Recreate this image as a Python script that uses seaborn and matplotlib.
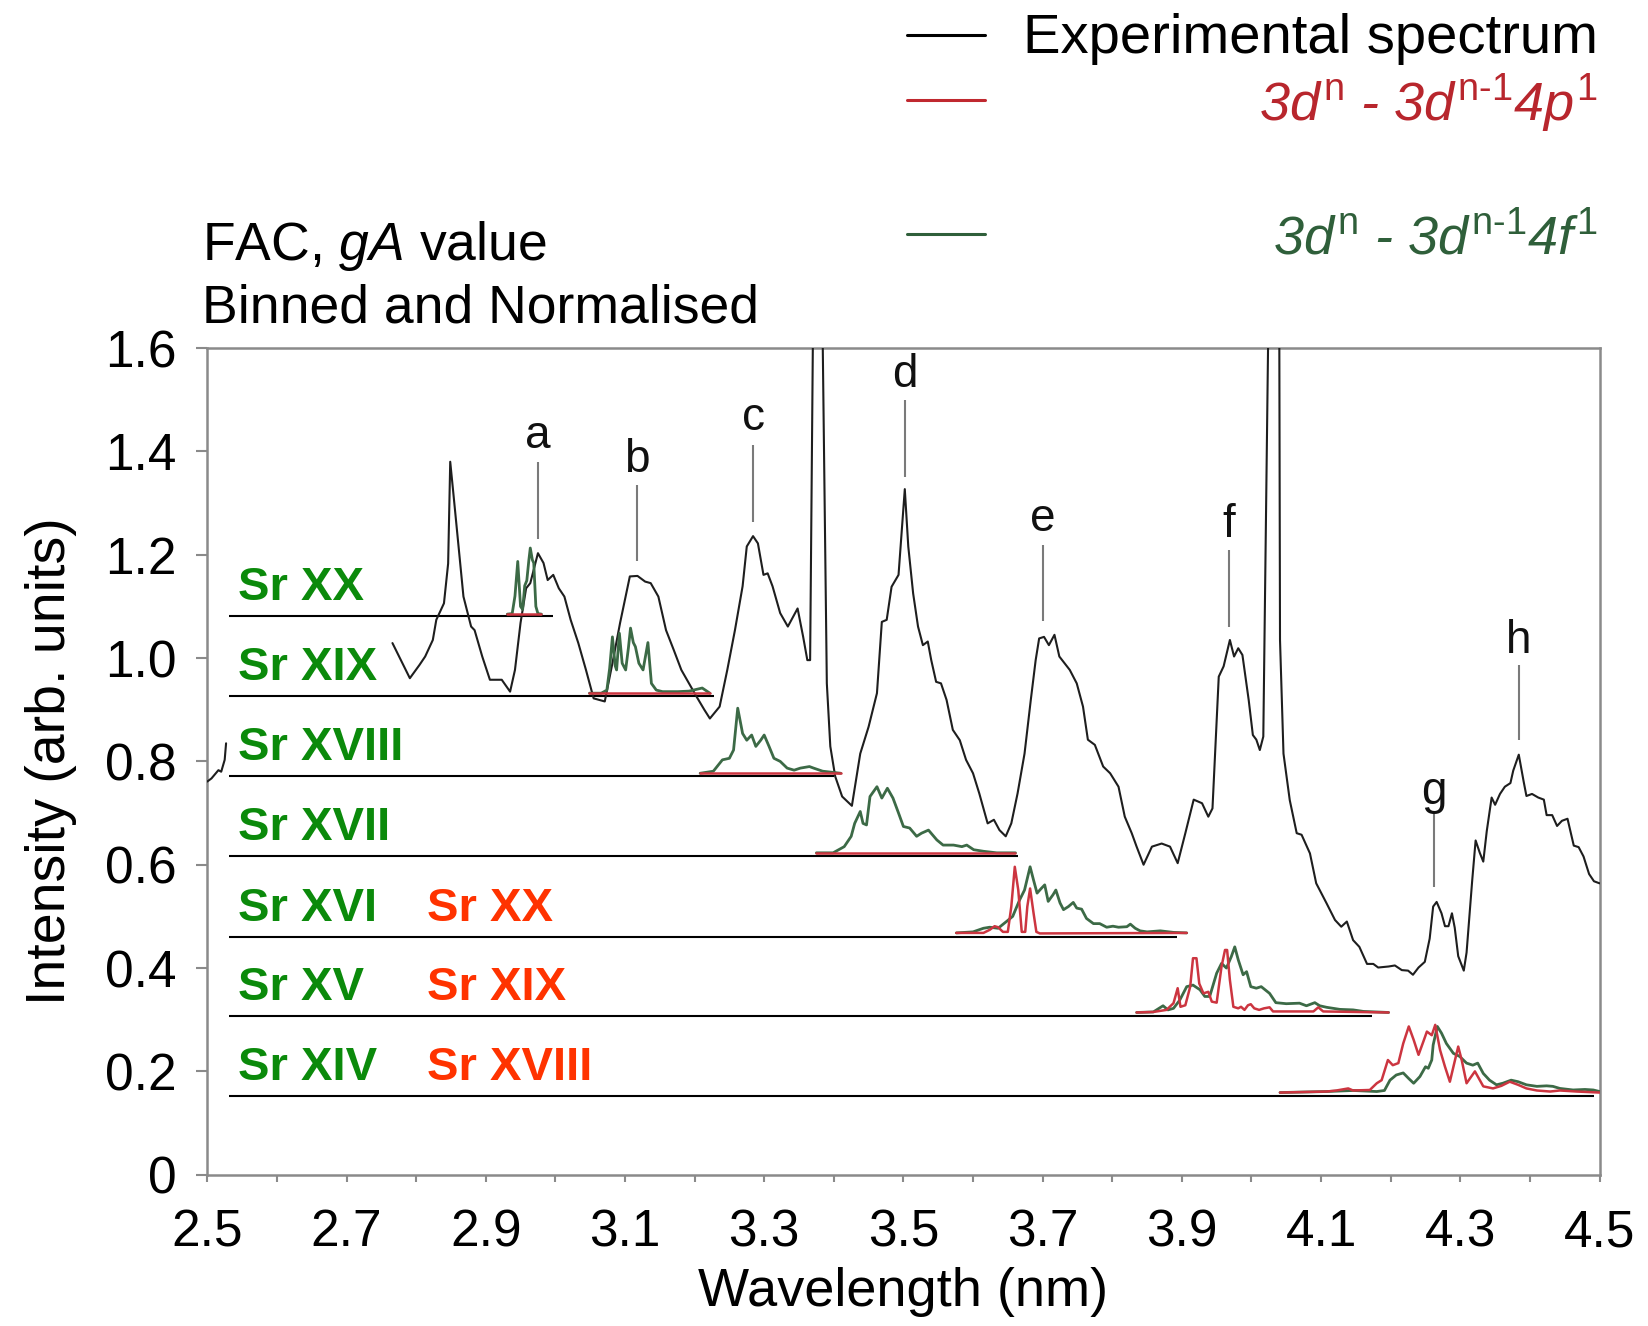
import numpy as np
import pandas as pd
import matplotlib
matplotlib.use("Agg")
import matplotlib.pyplot as plt
from matplotlib.lines import Line2D
import seaborn as sns

# ---------------- data ----------------
# experimental spectrum, short piece at the left edge
spec_left_x = [2.500, 2.506, 2.516, 2.520, 2.525, 2.527]
spec_left_y = [0.761, 0.767, 0.783, 0.780, 0.803, 0.835]

# experimental spectrum, main part
spec_x = [2.766, 2.791, 2.805, 2.813, 2.824, 2.829, 2.840, 2.846, 2.849, 2.854,
          2.868, 2.879, 2.884, 2.895, 2.906, 2.923, 2.935, 2.942, 2.950, 2.958,
          2.964, 2.975, 2.983, 2.989, 2.997, 3.005, 3.013, 3.022, 3.033, 3.044,
          3.055, 3.071, 3.082, 3.093, 3.107, 3.118, 3.129, 3.137, 3.148, 3.159,
          3.170, 3.181, 3.192, 3.203, 3.214, 3.222, 3.236, 3.247, 3.258, 3.269,
          3.275, 3.284, 3.291, 3.299, 3.305, 3.312, 3.323, 3.334, 3.348, 3.356,
          3.362, 3.366, 3.370, 3.377, 3.384, 3.390, 3.395, 3.402, 3.412, 3.426,
          3.438, 3.450, 3.462, 3.469, 3.476, 3.483, 3.493, 3.502, 3.507, 3.514,
          3.521, 3.528, 3.535, 3.540, 3.547, 3.554, 3.562, 3.571, 3.581, 3.590,
          3.600, 3.609, 3.621, 3.630, 3.638, 3.647, 3.655, 3.664, 3.674, 3.683,
          3.690, 3.695, 3.702, 3.709, 3.717, 3.724, 3.739, 3.749, 3.758, 3.765,
          3.775, 3.787, 3.797, 3.809, 3.818, 3.828, 3.835, 3.845, 3.857, 3.871,
          3.883, 3.894, 3.905, 3.917, 3.929, 3.938, 3.944, 3.953, 3.960, 3.969,
          3.975, 3.981, 3.987, 3.996, 4.002, 4.007, 4.012, 4.017, 4.024, 4.032,
          4.040, 4.041, 4.046, 4.055, 4.065, 4.072, 4.084, 4.093, 4.108, 4.120,
          4.129, 4.137, 4.146, 4.155, 4.166, 4.175, 4.182, 4.197, 4.206, 4.216,
          4.225, 4.232, 4.240, 4.249, 4.256, 4.261, 4.266, 4.273, 4.278, 4.283,
          4.288, 4.292, 4.297, 4.305, 4.309, 4.317, 4.322, 4.328, 4.333, 4.338,
          4.345, 4.350, 4.357, 4.364, 4.372, 4.376, 4.384, 4.391, 4.395, 4.403,
          4.412, 4.420, 4.424, 4.432, 4.439, 4.446, 4.454, 4.463, 4.470, 4.477,
          4.485, 4.492, 4.500]
spec_y = [1.029, 0.961, 0.987, 1.003, 1.035, 1.074, 1.106, 1.183, 1.380, 1.312,
          1.119, 1.061, 1.054, 1.003, 0.958, 0.958, 0.935, 0.977, 1.068, 1.135,
          1.145, 1.203, 1.184, 1.151, 1.161, 1.135, 1.119, 1.074, 1.029, 0.977,
          0.922, 0.916, 0.990, 1.068, 1.158, 1.159, 1.148, 1.145, 1.119, 1.054,
          1.016, 0.977, 0.951, 0.925, 0.900, 0.883, 0.906, 0.977, 1.054, 1.139,
          1.216, 1.236, 1.222, 1.161, 1.164, 1.139, 1.087, 1.061, 1.096, 1.041,
          0.996, 0.996, 1.620, 2.400, 1.620, 0.951, 0.829, 0.771, 0.732, 0.714,
          0.815, 0.867, 0.932, 1.070, 1.074, 1.138, 1.161, 1.327, 1.216, 1.125,
          1.061, 1.025, 1.032, 0.996, 0.954, 0.951, 0.919, 0.861, 0.841, 0.803,
          0.777, 0.738, 0.680, 0.687, 0.667, 0.655, 0.680, 0.738, 0.815, 0.919,
          0.996, 1.038, 1.041, 1.025, 1.045, 1.003, 0.977, 0.951, 0.906, 0.842,
          0.832, 0.790, 0.777, 0.751, 0.693, 0.661, 0.635, 0.600, 0.635, 0.641,
          0.635, 0.603, 0.661, 0.726, 0.719, 0.693, 0.709, 0.964, 0.984, 1.035,
          1.003, 1.019, 1.006, 0.919, 0.851, 0.842, 0.822, 0.848, 1.620, 2.400,
          1.620, 1.035, 0.815, 0.725, 0.661, 0.658, 0.622, 0.564, 0.525, 0.493,
          0.480, 0.490, 0.454, 0.441, 0.408, 0.408, 0.401, 0.403, 0.405, 0.396,
          0.395, 0.387, 0.401, 0.412, 0.457, 0.519, 0.528, 0.506, 0.481, 0.481,
          0.506, 0.478, 0.423, 0.395, 0.430, 0.568, 0.647, 0.623, 0.606, 0.665,
          0.730, 0.716, 0.737, 0.751, 0.758, 0.782, 0.813, 0.761, 0.733, 0.737,
          0.730, 0.726, 0.696, 0.696, 0.675, 0.685, 0.689, 0.637, 0.634, 0.616,
          0.582, 0.568, 0.564]

# FAC theory, 3d-4f (green) and 3d-4p (red), offset onto their ion baselines
f_sr20_x = [2.931, 2.938, 2.942, 2.946, 2.950, 2.953, 2.956, 2.959, 2.962, 2.964,
            2.967, 2.969, 2.972, 2.975, 2.980]
f_sr20_y = [1.085, 1.086, 1.120, 1.187, 1.100, 1.094, 1.140, 1.150, 1.190, 1.213,
            1.190, 1.184, 1.100, 1.086, 1.085]
p_sr20a_x = [2.931, 2.980]
p_sr20a_y = [1.085, 1.085]

f_sr19_x = [3.049, 3.066, 3.074, 3.078, 3.082, 3.086, 3.088, 3.092, 3.096, 3.101,
            3.105, 3.108, 3.112, 3.115, 3.120, 3.126, 3.133, 3.138, 3.145, 3.154,
            3.176, 3.192, 3.211, 3.222]
f_sr19_y = [0.932, 0.932, 0.938, 0.980, 1.041, 0.985, 0.977, 1.048, 0.990, 0.977,
            1.020, 1.058, 1.030, 1.022, 0.990, 0.977, 1.030, 0.951, 0.938, 0.935,
            0.935, 0.936, 0.942, 0.932]
p_sr19a_x = [3.049, 3.222]
p_sr19a_y = [0.932, 0.932]

f_sr18_x = [3.208, 3.227, 3.240, 3.250, 3.256, 3.262, 3.269, 3.275, 3.282, 3.288,
            3.295, 3.300, 3.307, 3.314, 3.323, 3.333, 3.343, 3.352, 3.365, 3.371,
            3.384, 3.410]
f_sr18_y = [0.777, 0.781, 0.803, 0.806, 0.822, 0.903, 0.854, 0.841, 0.851, 0.829,
            0.841, 0.851, 0.829, 0.806, 0.800, 0.787, 0.783, 0.787, 0.790, 0.787,
            0.781, 0.777]
p_sr18a_x = [3.208, 3.410]
p_sr18a_y = [0.777, 0.777]

f_sr17_x = [3.375, 3.399, 3.415, 3.425, 3.430, 3.438, 3.442, 3.447, 3.452, 3.462,
            3.469, 3.477, 3.485, 3.493, 3.500, 3.509, 3.519, 3.526, 3.536, 3.548,
            3.557, 3.572, 3.584, 3.591, 3.601, 3.615, 3.634, 3.661]
f_sr17_y = [0.623, 0.623, 0.635, 0.655, 0.680, 0.703, 0.680, 0.677, 0.732, 0.751,
            0.729, 0.748, 0.729, 0.700, 0.674, 0.671, 0.655, 0.661, 0.667, 0.648,
            0.638, 0.638, 0.635, 0.638, 0.629, 0.626, 0.623, 0.623]
p_sr17a_x = [3.375, 3.661]
p_sr17a_y = [0.623, 0.623]

f_sr16_x = [3.576, 3.600, 3.615, 3.624, 3.636, 3.648, 3.657, 3.667, 3.674, 3.682,
            3.687, 3.692, 3.698, 3.703, 3.708, 3.715, 3.719, 3.725, 3.730, 3.737,
            3.744, 3.749, 3.756, 3.763, 3.773, 3.782, 3.792, 3.801, 3.809, 3.821,
            3.826, 3.833, 3.840, 3.850, 3.869, 3.888, 3.907]
f_sr16_y = [0.468, 0.470, 0.477, 0.479, 0.477, 0.490, 0.500, 0.532, 0.551, 0.596,
            0.570, 0.545, 0.554, 0.561, 0.529, 0.542, 0.551, 0.526, 0.513, 0.519,
            0.527, 0.516, 0.514, 0.496, 0.486, 0.486, 0.479, 0.481, 0.479, 0.480,
            0.485, 0.477, 0.472, 0.470, 0.472, 0.469, 0.468]
p_sr20_x = [3.576, 3.615, 3.624, 3.631, 3.636, 3.643, 3.650, 3.655, 3.660, 3.665,
            3.670, 3.675, 3.678, 3.682, 3.687, 3.691, 3.696, 3.907]
p_sr20_y = [0.468, 0.468, 0.474, 0.481, 0.479, 0.470, 0.470, 0.519, 0.596, 0.551,
            0.470, 0.470, 0.519, 0.554, 0.506, 0.470, 0.467, 0.468]

f_sr15_x = [3.835, 3.859, 3.873, 3.880, 3.888, 3.897, 3.907, 3.916, 3.926, 3.933,
            3.940, 3.950, 3.957, 3.964, 3.971, 3.976, 3.981, 3.988, 3.993, 3.999,
            4.007, 4.014, 4.026, 4.035, 4.050, 4.069, 4.079, 4.091, 4.098, 4.108,
            4.127, 4.146, 4.161, 4.197]
f_sr15_y = [0.314, 0.315, 0.327, 0.319, 0.322, 0.338, 0.364, 0.367, 0.358, 0.345,
            0.345, 0.390, 0.409, 0.400, 0.422, 0.441, 0.416, 0.387, 0.393, 0.364,
            0.361, 0.364, 0.351, 0.333, 0.331, 0.332, 0.327, 0.333, 0.327, 0.324,
            0.320, 0.319, 0.316, 0.314]
p_sr19_x = [3.835, 3.859, 3.878, 3.888, 3.894, 3.898, 3.905, 3.912, 3.916, 3.921,
            3.925, 3.931, 3.938, 3.943, 3.950, 3.957, 3.962, 3.965, 3.969, 3.974,
            3.981, 3.985, 3.990, 3.995, 3.999, 4.004, 4.011, 4.018, 4.026, 4.031,
            4.089, 4.096, 4.103, 4.197]
p_sr19_y = [0.314, 0.315, 0.319, 0.332, 0.361, 0.325, 0.328, 0.364, 0.419, 0.419,
            0.370, 0.351, 0.354, 0.335, 0.333, 0.403, 0.435, 0.435, 0.377, 0.325,
            0.322, 0.325, 0.319, 0.328, 0.330, 0.322, 0.319, 0.322, 0.324, 0.316,
            0.316, 0.324, 0.316, 0.314]

f_sr14_x = [4.041, 4.108, 4.146, 4.180, 4.191, 4.199, 4.208, 4.218, 4.226, 4.233,
            4.242, 4.250, 4.254, 4.259, 4.261, 4.267, 4.273, 4.280, 4.290, 4.299,
            4.309, 4.318, 4.325, 4.333, 4.342, 4.352, 4.361, 4.373, 4.383, 4.395,
            4.410, 4.424, 4.433, 4.443, 4.462, 4.479, 4.491, 4.500]
f_sr14_y = [0.159, 0.161, 0.163, 0.161, 0.163, 0.183, 0.193, 0.197, 0.186, 0.177,
            0.190, 0.209, 0.206, 0.222, 0.251, 0.287, 0.274, 0.254, 0.235, 0.229,
            0.216, 0.212, 0.216, 0.196, 0.183, 0.174, 0.177, 0.183, 0.180, 0.174,
            0.171, 0.172, 0.171, 0.167, 0.164, 0.165, 0.164, 0.161]
p_sr18_x = [4.041, 4.108, 4.122, 4.139, 4.146, 4.170, 4.180, 4.187, 4.196, 4.203,
            4.211, 4.218, 4.226, 4.233, 4.240, 4.247, 4.252, 4.259, 4.264, 4.271,
            4.278, 4.285, 4.297, 4.302, 4.309, 4.321, 4.333, 4.347, 4.359, 4.371,
            4.383, 4.395, 4.410, 4.429, 4.443, 4.467, 4.500]
p_sr18_y = [0.159, 0.161, 0.163, 0.167, 0.163, 0.164, 0.177, 0.183, 0.222, 0.212,
            0.216, 0.254, 0.287, 0.261, 0.232, 0.258, 0.277, 0.270, 0.290, 0.241,
            0.209, 0.180, 0.248, 0.222, 0.177, 0.200, 0.171, 0.167, 0.172, 0.180,
            0.174, 0.167, 0.163, 0.161, 0.163, 0.161, 0.159]

# ion baselines
base_y = [1.081, 0.926, 0.771, 0.617, 0.461, 0.307, 0.152]
base_x0 = 2.531
base_x1 = [2.997, 3.228, 3.400, 3.665, 3.893, 4.173, 4.492]
green_labels = ["Sr XX", "Sr XIX", "Sr XVIII", "Sr XVII", "Sr XVI", "Sr XV", "Sr XIV"]
red_labels = ["", "", "", "", "Sr XX", "Sr XIX", "Sr XVIII"]

# peak markers
peak_names = ["a", "b", "c", "d", "e", "f", "g", "h"]
peak_x = [2.975, 3.117, 3.284, 3.502, 3.700, 3.968, 4.262, 4.384]
peak_line_lo = [1.230, 1.187, 1.264, 1.351, 1.071, 1.061, 0.557, 0.841]
peak_line_hi = [1.380, 1.335, 1.412, 1.500, 1.219, 1.209, 0.702, 0.986]
peak_text_y = [1.406, 1.361, 1.441, 1.524, 1.245, 1.234, 0.718, 1.009]

x_ticks = [2.5, 2.7, 2.9, 3.1, 3.3, 3.5, 3.7, 3.9, 4.1, 4.3, 4.5]
x_minor = [2.6, 2.8, 3.0, 3.2, 3.4, 3.6, 3.8, 4.0, 4.2, 4.4]
y_ticks = [0, 0.2, 0.4, 0.6, 0.8, 1.0, 1.2, 1.4, 1.6]
y_ticklabels = ["0", "0.2", "0.4", "0.6", "0.8", "1.0", "1.2", "1.4", "1.6"]

# ---------------- style ----------------
sns.set_style("white")
plt.rcParams['font.family'] = ['Liberation Sans', 'DejaVu Sans']
plt.rcParams['mathtext.fontset'] = 'custom'
plt.rcParams['mathtext.rm'] = 'Liberation Sans'
plt.rcParams['mathtext.it'] = 'Liberation Sans:italic'
plt.rcParams['mathtext.bf'] = 'Liberation Sans:bold'
plt.rcParams['text.color'] = 'black'
plt.rcParams['axes.labelcolor'] = 'black'
plt.rcParams['xtick.labelcolor'] = 'black'
plt.rcParams['ytick.labelcolor'] = 'black'

GREEN_T = '#3c6a46'
RED_T = '#cc3540'
GREEN_L = '#0b8a0b'
RED_L = '#ff3300'
SPEC = '#1e1e1e'
GRAY = '#8a8a8a'

fig = plt.figure(figsize=(16.49, 13.26), dpi=100)
ax = fig.add_axes([0.1257, 0.1141, 0.8443, 0.6234])

# experimental spectrum
sns.lineplot(x=spec_left_x, y=spec_left_y, ax=ax, color=SPEC, lw=1.5,
             sort=False, estimator=None, zorder=3)
sns.lineplot(x=spec_x, y=spec_y, ax=ax, color=SPEC, lw=1.5,
             sort=False, estimator=None, zorder=3)

# ion baselines
ax.hlines(base_y, base_x0, base_x1, color='black', lw=1.5, zorder=2)

# theory
green_sets = [(f_sr20_x, f_sr20_y), (f_sr19_x, f_sr19_y), (f_sr18_x, f_sr18_y),
              (f_sr17_x, f_sr17_y), (f_sr16_x, f_sr16_y), (f_sr15_x, f_sr15_y),
              (f_sr14_x, f_sr14_y)]
red_sets = [(p_sr20a_x, p_sr20a_y), (p_sr19a_x, p_sr19a_y), (p_sr18a_x, p_sr18a_y),
            (p_sr17a_x, p_sr17a_y), (p_sr20_x, p_sr20_y), (p_sr19_x, p_sr19_y),
            (p_sr18_x, p_sr18_y)]
for (gx, gy), (rx, ry) in zip(green_sets, red_sets):
    sns.lineplot(x=gx, y=gy, ax=ax, color=GREEN_T, lw=2.0, sort=False,
                 estimator=None, zorder=4)
    sns.lineplot(x=rx, y=ry, ax=ax, color=RED_T, lw=1.8, sort=False,
                 estimator=None, zorder=5)

# ion labels
for by, gl, rl in zip(base_y, green_labels, red_labels):
    ax.text(2.544, by + 0.031, gl, color=GREEN_L, fontsize=34, fontweight='bold',
            ha='left', va='baseline', zorder=6)
    if rl:
        ax.text(2.816, by + 0.031, rl, color=RED_L, fontsize=34, fontweight='bold',
                ha='left', va='baseline', zorder=6)

# peak markers
ax.vlines(peak_x, peak_line_lo, peak_line_hi, color='#7a7a7a', lw=1.5, zorder=2)
for name, px, ty in zip(peak_names, peak_x, peak_text_y):
    ax.text(px, ty, name, fontsize=33, ha='center', va='baseline', color='#111111')

# axes styling
ax.set_xlim(2.5, 4.5)
ax.set_ylim(0, 1.6)
ax.set_xticks(x_ticks)
ax.set_xticklabels([f"{v:.1f}" for v in x_ticks])
ax.set_xticks(x_minor, minor=True)
ax.set_yticks(y_ticks)
ax.set_yticklabels(y_ticklabels)
ax.tick_params(axis='x', which='both', direction='out', length=5, width=1.5,
               color=GRAY, labelsize=37, pad=19, bottom=True)
ax.tick_params(axis='y', which='both', direction='out', length=8, width=1.5,
               color=GRAY, labelsize=37, pad=14, left=True)
for s in ax.spines.values():
    s.set_color(GRAY)
    s.set_linewidth(1.8)
    s.set_visible(True)
ax.set_xlabel("Wavelength (nm)", fontsize=39, labelpad=7)
ax.set_ylabel("Intensity (arb. units)", fontsize=40, labelpad=20)

# top-left note
fig.text(0.1225, 0.8041, r"FAC, $gA$ value", fontsize=38.5, ha='left', va='baseline')
fig.text(0.1225, 0.7565, "Binned and Normalised", fontsize=38.5, ha='left', va='baseline')

# legend (drawn manually to match layout)
leg_rows = [
    ("Experimental spectrum", 'black', 'black', 0.9603, 0.9738, 'normal', 40.5),
    (r"3$d^{\rm n}$ - 3$d^{\rm n\text{-}1}$4$p^{\rm 1}$", '#c0282f', '#b8262d', 0.9088, 0.9247, 'italic', 39),
    (r"3$d^{\rm n}$ - 3$d^{\rm n\text{-}1}$4$f^{\rm 1}$", '#2f5f3a', '#2f5f3a', 0.8081, 0.8239, 'italic', 39),
]
for label, lcol, tcol, ty, ly, st, fs in leg_rows:
    fig.add_artist(Line2D([0.5498, 0.5976], [ly, ly], color=lcol, lw=2.2))
    fig.text(0.9688, ty, label, color=tcol, fontsize=fs, ha='right', va='baseline',
             style=st)

fig.savefig("out.png", dpi=100)
